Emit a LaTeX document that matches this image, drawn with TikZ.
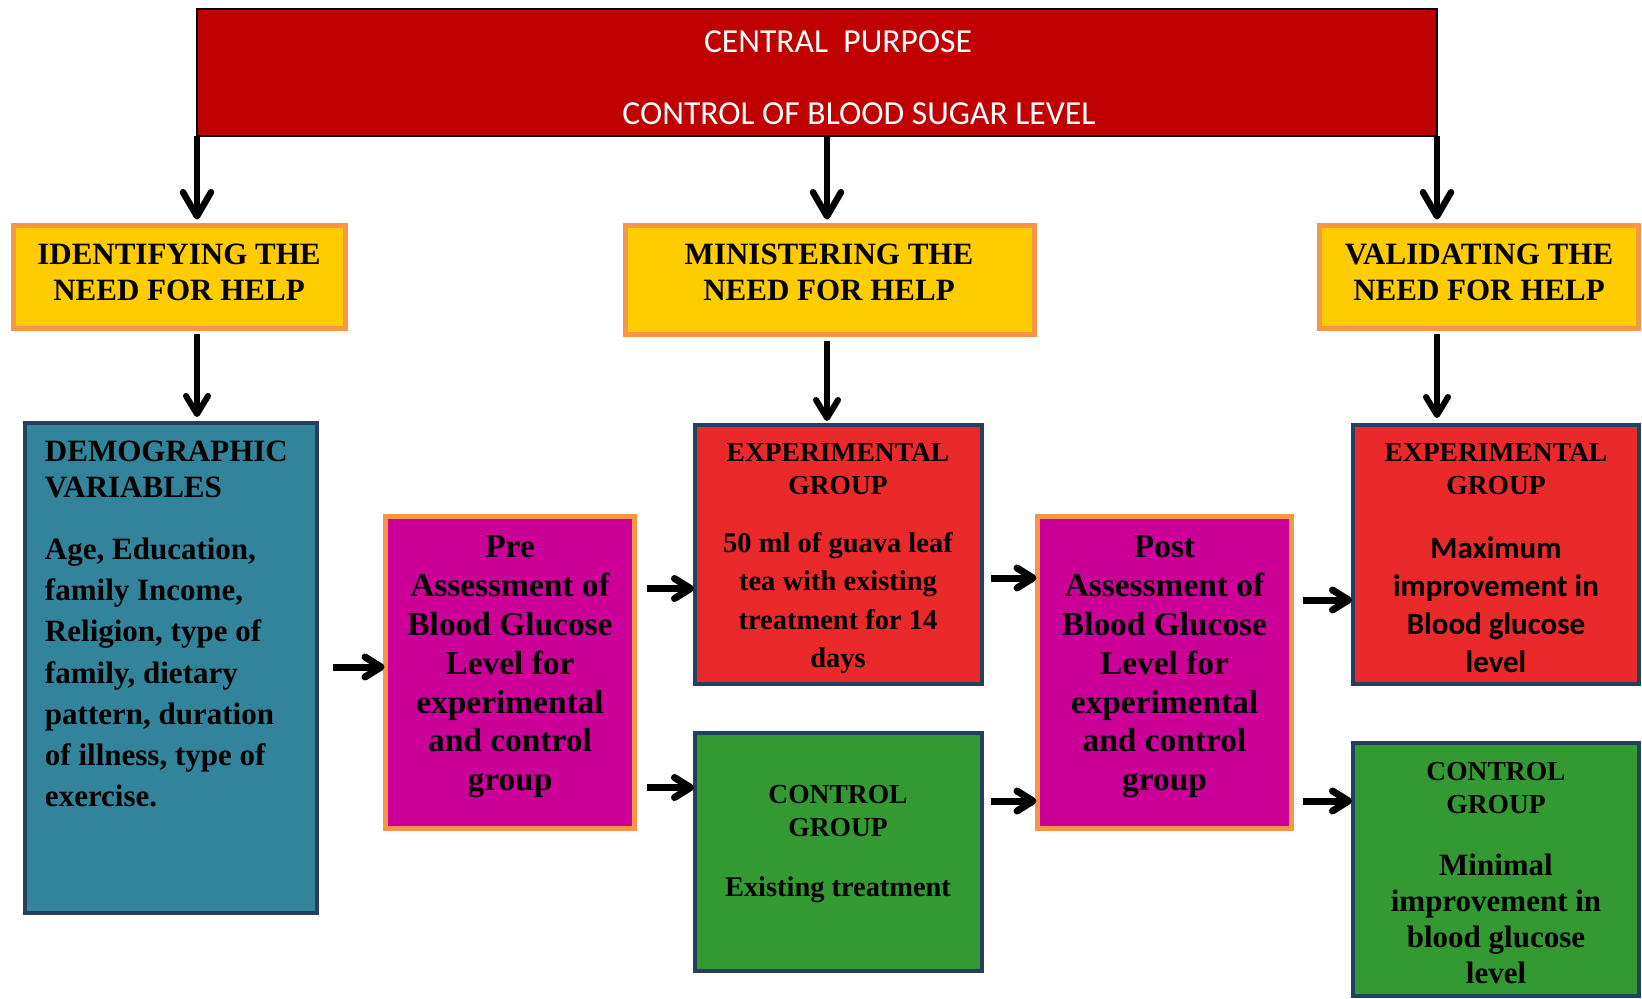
\documentclass[tikz,border=0pt]{standalone}
\usepackage{fontspec}
\setmainfont{Liberation Serif}
\newfontfamily\calib{Carlito}
\usetikzlibrary{arrows.meta}
\definecolor{topred}{HTML}{C00000}
\definecolor{ylw}{HTML}{FFCC00}
\definecolor{orng}{HTML}{F79646}
\definecolor{tealbox}{HTML}{31849B}
\definecolor{navyline}{HTML}{243F60}
\definecolor{magbox}{HTML}{CC0099}
\definecolor{grpred}{HTML}{EA2A2A}
\definecolor{grpgreen}{HTML}{339933}
\begin{document}
\begin{tikzpicture}[x=1pt,y=-1pt,
  box/.style={draw, rectangle, inner sep=0pt, outer sep=0pt},
  topbox/.style={box, fill=topred, draw=black, line width=2pt},
  yellowbox/.style={box, fill=ylw, draw=orng, line width=5pt},
  assessbox/.style={box, fill=magbox, draw=orng, line width=5pt},
  navybox/.style={box, draw=navyline, line width=4pt},
  txt/.style={inner sep=0pt, outer sep=0pt, align=center, text=black},
  toptxt/.style={inner sep=0pt, outer sep=0pt, text=white, font=\calib\fontsize{33.6}{40}\selectfont},
  headtxt/.style={txt, font=\bfseries\fontsize{31}{35.6}\selectfont},
  grouptitle/.style={txt, font=\bfseries\fontsize{27.5}{33}\selectfont},
  bigarrow/.style={line width=6.5pt, -{Straight Barb[length=24pt,width=28pt,line cap=round,line join=round]}},
  midarrow/.style={line width=6pt, -{Straight Barb[length=18pt,width=22pt,line cap=round,line join=round]}},
  sidearrow/.style={line width=7pt, -{Straight Barb[length=16pt,width=20pt,line cap=round,line join=round]}}
]
\useasboundingbox (0,0) rectangle (1642,999);

% boxes
\node[topbox, minimum width=1240pt, minimum height=127pt] (top) at (817,72.5) {};
\node[yellowbox, minimum width=332pt, minimum height=103pt] (yl) at (179,277) {};
\node[yellowbox, minimum width=409pt, minimum height=109pt] (ym) at (830,280) {};
\node[yellowbox, minimum width=319pt, minimum height=103pt] (yr) at (1479,277) {};
\node[navybox, fill=tealbox, minimum width=292pt, minimum height=490pt] (demo) at (171,668) {};
\node[assessbox, minimum width=249pt, minimum height=312pt] (pre) at (510,672.5) {};
\node[navybox, fill=grpred, minimum width=287pt, minimum height=259pt] (expm) at (838.5,554.5) {};
\node[navybox, fill=grpgreen, minimum width=287pt, minimum height=238pt] (conm) at (838.5,852) {};
\node[assessbox, minimum width=254pt, minimum height=312pt] (post) at (1164.5,672.5) {};
\node[navybox, fill=grpred, minimum width=286pt, minimum height=259pt] (expr) at (1496,554.5) {};
\node[navybox, fill=grpgreen, minimum width=286pt, minimum height=253pt] (conr) at (1496,869.5) {};

% texts
\node[toptxt, anchor=base] (cp1) at (838,52) {CENTRAL\ \ PURPOSE};
\node[toptxt, anchor=base] (cp2) at (859,124) {CONTROL OF BLOOD SUGAR LEVEL};

\node[headtxt] (ylt) at (179,272.3) {IDENTIFYING THE\\NEED FOR HELP};
\node[headtxt] (ymt) at (829,272.3) {MINISTERING THE\\NEED FOR HELP};
\node[headtxt] (yrt) at (1479,272.3) {VALIDATING THE\\NEED FOR HELP};

\node[txt, align=left, anchor=north west, font=\bfseries\fontsize{31}{36}\selectfont] (demot) at (45,441) {DEMOGRAPHIC\\VARIABLES};
\node[txt, align=left, anchor=north west, font=\bfseries\fontsize{31}{41.2}\selectfont] (demob) at (45,538) {Age, Education,\\family Income,\\Religion, type of\\family, dietary\\pattern, duration\\of illness, type of\\exercise.};

\node[txt, font=\bfseries\fontsize{33.4}{38.8}\selectfont] (pret) at (510,667) {Pre\\Assessment of\\Blood Glucose\\Level for\\experimental\\and control\\group};
\node[txt, font=\bfseries\fontsize{33.4}{38.8}\selectfont] (postt) at (1164.5,667) {Post\\Assessment of\\Blood Glucose\\Level for\\experimental\\and control\\group};

\node[grouptitle] (expmt) at (838,469.5) {EXPERIMENTAL\\GROUP};
\node[txt, font=\bfseries\fontsize{28.5}{38.2}\selectfont] (expmb) at (838,603) {50 ml of guava leaf\\tea with existing\\treatment for 14\\days};
\node[grouptitle] (conmt) at (838,811) {CONTROL\\GROUP};
\node[txt, anchor=base, font=\bfseries\fontsize{28.4}{34}\selectfont] (conmb) at (838,896) {Existing treatment};

\node[grouptitle] (exprt) at (1496,469.5) {EXPERIMENTAL\\GROUP};
\node[txt, font=\calib\bfseries\fontsize{31}{38}\selectfont] (exprb) at (1496,605) {Maximum\\improvement in\\Blood glucose\\level};
\node[grouptitle] (conrt) at (1496,788) {CONTROL\\GROUP};
\node[txt, font=\bfseries\fontsize{31}{36}\selectfont] (conrb) at (1496,919) {Minimal\\improvement in\\blood glucose\\level};

% vertical arrows
\draw[bigarrow] (top.south west) -- ([yshift=6pt]top.south west |- yl.north);
\draw[bigarrow] ([xshift=10pt]top.south) -- ([xshift=10pt,yshift=6pt]top.south |- ym.north);
\draw[bigarrow] (top.south east) -- ([yshift=6pt]top.south east |- yr.north);

\draw[midarrow] ([yshift=-5pt]top.south west |- yl.south) -- ([yshift=6pt]top.south west |- demo.north);
\draw[midarrow] ([yshift=-6pt]827,0 |- ym.south) -- ([yshift=4pt]827,0 |- expm.north);
\draw[midarrow] ([yshift=-5pt]top.south east |- yr.south) -- ([yshift=7pt]top.south east |- expr.north);

% horizontal arrows
\draw[sidearrow] ([xshift=16pt]demo.east |- 0,667) -- ([xshift=-1pt]pre.west |- 0,667);
\draw[sidearrow] ([xshift=12pt]pre.east |- 0,588.5) -- ([xshift=-1pt]expm.west |- 0,588.5);
\draw[sidearrow] ([xshift=12pt]pre.east |- 0,787.5) -- ([xshift=-1pt]conm.west |- 0,787.5);
\draw[sidearrow] ([xshift=9pt]expm.east |- 0,578) -- ([xshift=-1pt]post.west |- 0,578);
\draw[sidearrow] ([xshift=9pt]conm.east |- 0,801) -- ([xshift=-1pt]post.west |- 0,801);
\draw[sidearrow] ([xshift=11pt]post.east |- 0,600) -- ([xshift=-1pt]expr.west |- 0,600);
\draw[sidearrow] ([xshift=11pt]post.east |- 0,801) -- ([xshift=-1pt]conr.west |- 0,801);
\end{tikzpicture}
\end{document}
